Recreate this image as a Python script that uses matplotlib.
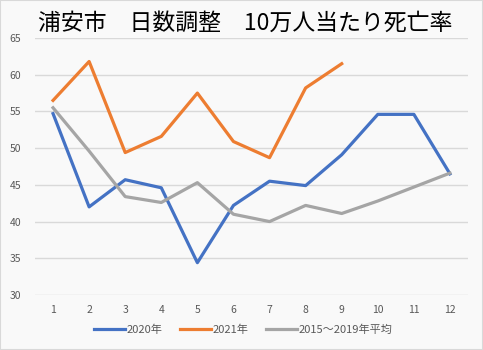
import matplotlib
matplotlib.use("Agg")
import matplotlib.pyplot as plt
from matplotlib.patches import Rectangle

plt.rcParams['font.family'] = ['Noto Sans CJK JP', 'DejaVu Sans']

months = [1, 2, 3, 4, 5, 6, 7, 8, 9, 10, 11, 12]
y2020 = [54.7, 42.0, 45.7, 44.6, 34.4, 42.2, 45.5, 44.9, 49.1, 54.6, 54.6, 46.5]
months2021 = [1, 2, 3, 4, 5, 6, 7, 8, 9]
y2021 = [56.5, 61.8, 49.4, 51.6, 57.5, 50.9, 48.7, 58.2, 61.5]
yavg = [55.5, 49.6, 43.4, 42.6, 45.3, 41.0, 40.0, 42.2, 41.1, 42.8, 44.7, 46.6]
labels = ['2020年', '2021年', '2015～2019年平均']
title = '浦安市　日数調整　10万人当たり死亡率'

fig = plt.figure(figsize=(4.83, 3.5), dpi=100, facecolor='#f9f9f9')
fig.patches.append(Rectangle((0, 0), 1, 1, transform=fig.transFigure,
                             fill=False, edgecolor='#d9d9d9', lw=1.5))
ax = fig.add_axes([35/483, 1-295/350, (468-35)/483, (295-38)/350])
ax.set_facecolor('#f9f9f9')

ax.plot(months, y2020, color='#4472c4', lw=2.3, label=labels[0])
ax.plot(months2021, y2021, color='#ed7d31', lw=2.3, label=labels[1])
ax.plot(months, yavg, color='#a5a5a5', lw=2.3, label=labels[2])

ax.set_ylim(30, 65)
ax.set_yticks(range(30, 66, 5))
ax.set_xlim(0.5, 12.5)
ax.set_xticks(months)
ax.grid(axis='y', color='#d9d9d9', lw=1)
ax.set_axisbelow(True)
for s in ax.spines.values():
    s.set_visible(False)
ax.tick_params(length=0, labelsize=7.5, colors='#595959')
ax.tick_params(axis='x', pad=7)
ax.tick_params(axis='y', pad=10)

fig.text(245/483, 1-23/350, title, ha='center', va='center', fontsize=16.5,
         color='black')

fig.legend(loc='center', bbox_to_anchor=(243/483, 1-330/350), ncol=3,
           frameon=False, fontsize=8, labelcolor='#595959', handlelength=2.8,
           handletextpad=0.1, columnspacing=1.6)

fig.savefig('out.png', dpi=100, facecolor=fig.get_facecolor())
